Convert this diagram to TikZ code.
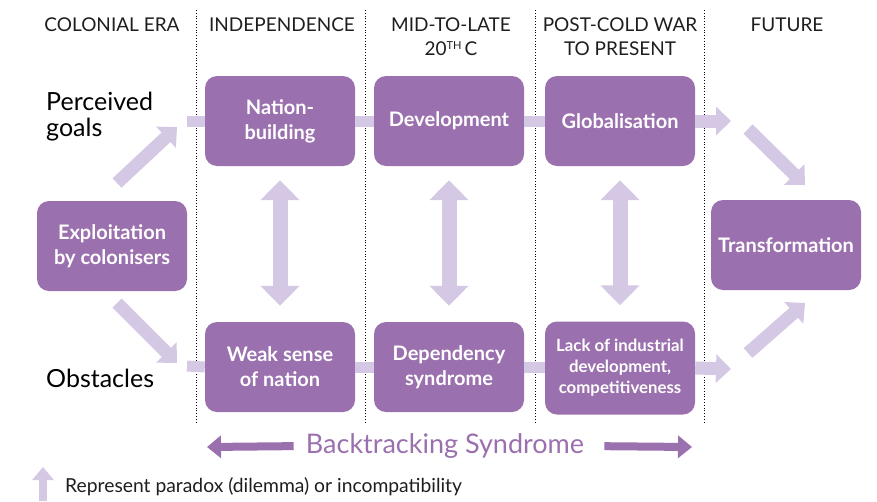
\documentclass[tikz,border=0pt]{standalone}
\usepackage{fontspec}
\setmainfont{Lato}
\usepackage{tikz}
\usetikzlibrary{arrows.meta, positioning}
\definecolor{boxpurple}{HTML}{9B70AE}
\definecolor{lightpurple}{HTML}{D5C8E4}
\definecolor{ink}{HTML}{1E1E1E}

\begin{document}
\begin{tikzpicture}[x=1pt, y=-1pt,
	box/.style={rectangle, rounded corners=12pt, fill=boxpurple, text=white, font=\fontsize{20}{25}\selectfont\bfseries, align=center, minimum width=150pt, minimum height=90pt, inner sep=0pt},
	era/.style={font=\fontsize{19}{24}\selectfont, text=ink, align=center, anchor=north, inner sep=0pt},
	side/.style={font=\fontsize{25}{26}\selectfont, text=black, align=left, anchor=west, inner sep=0pt},
	bar/.style={line width=11pt, lightpurple},
	fat/.style={line width=13pt, lightpurple, -{Triangle[width=28pt, length=15pt]}},
	paradox/.style={line width=15pt, lightpurple, {Triangle[width=38pt, length=20pt]}-{Triangle[width=38pt, length=20pt]}},
	back/.style={line width=8pt, boxpurple, -{Triangle[width=22pt, length=14pt]}}
]
	\useasboundingbox (0,0) rectangle (877,501);

	% era headings
	\node[era] (colonial) at (112,18) {COLONIAL ERA};
	\node[era] (indep) at (282,18) {INDEPENDENCE};
	\node[era] (midlate) at (451,18) {MID-TO-LATE\\20{\fontsize{11}{11}\selectfont\raisebox{6pt}{TH}}\,C};
	\node[era] (postcold) at (620,18) {POST-COLD WAR\\TO PRESENT};
	\node[era] (future) at (787,18) {FUTURE};

	\draw[dotted, thick] (196,10) -- (196,423)
	                     (365,10) -- (365,423)
	                     (535,10) -- (535,423)
	                     (704,10) -- (704,423);

	% row labels
	\node[side] (goals) at (46,117) {Perceived\\goals};
	\node[side] (obst) at (46,378) {Obstacles};

	% boxes
	\node[box] (exploit) at (112,246) {Exploitation\\by colonisers};
	\node[box] (nation) at (280,121) {Nation-\\building};
	\node[box] (devel) at (449,121) {Development};
	\node[box] (glob) at (620,121) {Globalisation};
	\node[box] (weak) at (280,367) {Weak sense\\of nation};
	\node[box] (depend) at (449,367) {Dependency\\syndrome};
	\node[box, minimum height=93pt, font=\fontsize{16.8}{21}\selectfont\bfseries] (lack) at (620,368) {Lack of industrial\\development,\\competitiveness};
	\node[box] (transform) at (786,245) {Transformation};

	\coordinate (goalin) at (187,121);
	\coordinate (obstin) at (187,366);
	\coordinate (upfrom) at (117,183);
	\coordinate (uptip) at (177,127);
	\coordinate (downfrom) at (117,303);
	\coordinate (downtip) at (177,363);
	\coordinate (globout) at (731,121);
	\coordinate (lackout) at (731,369);
	\coordinate (futfrom) at (748,129);
	\coordinate (futtip) at (805,185);
	\coordinate (risefrom) at (748,353);
	\coordinate (risetip) at (805,303);

	% connectors
	\draw[bar] (goalin) -- (nation.west);
	\draw[bar] (nation) -- (devel);
	\draw[bar] (devel) -- (glob);
	\draw[bar] (obstin) -- (weak.west);
	\draw[bar] (weak) -- (depend);
	\draw[bar] (depend) -- (lack);
	\draw[fat] (upfrom) -- (uptip);
	\draw[fat] (downfrom) -- (downtip);
	\draw[fat] (glob.east) -- (globout);
	\draw[fat] (lack.east) -- (lackout);
	\draw[fat] (futfrom) -- (futtip);
	\draw[fat] (risefrom) -- (risetip);

	% paradoxes
	\draw[paradox, shorten <=14pt, shorten >=16pt] (nation) -- (weak);
	\draw[paradox, shorten <=14pt, shorten >=16pt] (devel) -- (depend);
	\draw[paradox, shorten <=14pt, shorten >=16pt] (glob) -- (lack);

	% backtracking
	\node[text=boxpurple, font=\fontsize{27}{30}\selectfont, inner sep=0pt] (backtrack) at (445,446) {Backtracking Syndrome};
	\coordinate (backL) at (207,447);
	\coordinate (backR) at (692,447);
	\draw[back, shorten <=12pt] (backtrack.west) -- (backL);
	\draw[back, shorten <=20pt] (backtrack.east) -- (backR);

	% legend
	\coordinate (legbot) at (43,501);
	\coordinate (legtip) at (43,467);
	\draw[line width=8pt, lightpurple, -{Triangle[width=21pt, length=13pt]}] (legbot) -- (legtip);
	\node[anchor=west, inner sep=0pt, text=ink, font=\fontsize{19.3}{22}\selectfont] (legend) at (65,487) {Represent paradox (dilemma) or incompatibility};
\end{tikzpicture}
\end{document}
